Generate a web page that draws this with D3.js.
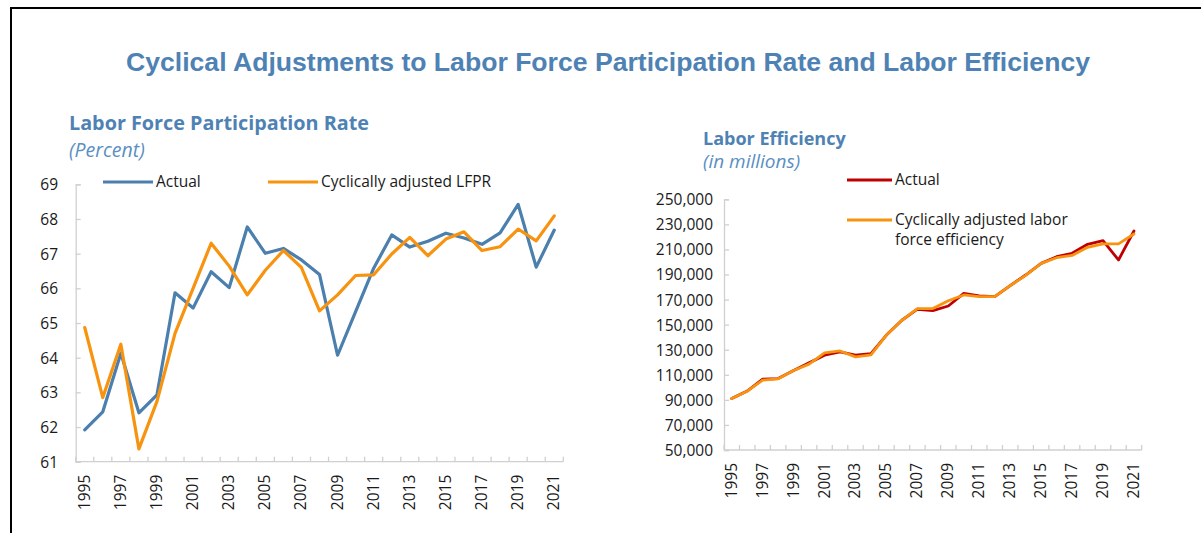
<!DOCTYPE html>
<html>
<head>
<meta charset="utf-8">
<script src="https://cdn.jsdelivr.net/npm/d3@7"></script>
<style>
  html, body { margin: 0; padding: 0; background: #ffffff; }
  svg { display: block; }
  text { font-family: "Open Sans", "Noto Sans", sans-serif; }
</style>
</head>
<body>
<svg id="chart" width="1201" height="533"></svg>
<script>
// ---- Data ----
const years = d3.range(1995, 2022);
const yearLabels = years.filter(y => (y - 1995) % 2 === 0);

// Labor force participation rate (percent)
const lfprActual = [61.92, 62.44, 64.13, 62.41, 62.93, 65.87, 65.43, 66.48, 66.02, 67.77,
                    67.01, 67.15, 66.82, 66.40, 64.07, 65.33, 66.58, 67.54, 67.19, 67.36,
                    67.59, 67.45, 67.27, 67.60, 68.42, 66.61, 67.68];
const lfprAdjusted = [64.87, 62.85, 64.39, 61.37, 62.74, 64.70, 66.00, 67.30, 66.64, 65.81,
                      66.52, 67.09, 66.60, 65.35, 65.81, 66.37, 66.39, 66.99, 67.47, 66.94,
                      67.42, 67.63, 67.09, 67.20, 67.71, 67.37, 68.09];
const lfprTicks = [61, 62, 63, 64, 65, 66, 67, 68, 69];

// Labor efficiency (in millions)
const effActual = [91000, 97000, 106500, 107000, 113500, 119500, 125600, 128200, 125700, 126900,
                   141700, 153500, 162300, 161200, 164900, 175000, 172900, 172300, 181100, 189600,
                   198900, 204200, 206900, 214100, 217000, 201600, 224700];
const effAdjusted = [91000, 96900, 105800, 106800, 113400, 118500, 127400, 129000, 124300, 125900,
                     141700, 153500, 162800, 162800, 169100, 173700, 172400, 172300, 181100, 189300,
                     198900, 203400, 205200, 211700, 214400, 214400, 222300];
const effTicks = [50000, 70000, 90000, 110000, 130000, 150000, 170000, 190000, 210000, 230000, 250000];

// ---- Styles ----
const titleBlue = "#4e82b4";
const subBlue = "#5a8fc2";
const axisGray = "#d0d0d0";
const textColor = "#1a1a1a";

const svg = d3.select("#chart");

// outer frame (top and left edges visible)
svg.append("rect")
  .attr("x", 11).attr("y", 8)
  .attr("width", 1210).attr("height", 560)
  .attr("fill", "none").attr("stroke", "#000").attr("stroke-width", 2);

svg.append("text")
  .attr("x", 608).attr("y", 71)
  .attr("text-anchor", "middle")
  .style("font-family", "'Liberation Sans', Arial, sans-serif")
  .style("font-weight", "bold")
  .style("font-size", "26.6px")
  .attr("fill", titleBlue)
  .text("Cyclical Adjustments to Labor Force Participation Rate and Labor Efficiency");

// Draws one line panel: category x axis with rotated year labels, linear y axis.
function panel(opts) {
  const g = svg.append("g");
  const x = d3.scaleBand().domain(years).range([opts.x0, opts.x1]).paddingInner(0).paddingOuter(0);
  const y = d3.scaleLinear().domain(opts.domain).range([opts.y0, opts.y1]);
  const cx = d => x(d) + x.bandwidth() / 2;

  // titles
  g.append("text").attr("x", opts.titleX).attr("y", opts.titleY)
    .style("font-weight", "bold").style("font-size", opts.titleSize + "px")
    .attr("fill", titleBlue).text(opts.title);
  g.append("text").attr("x", opts.titleX).attr("y", opts.titleY + opts.subGap)
    .style("font-style", "italic").style("font-size", opts.subSize + "px")
    .attr("fill", subBlue).text(opts.subtitle);

  // y axis
  const yAxis = d3.axisLeft(y).tickValues(opts.ticks).tickSize(-5).tickPadding(0)
    .tickFormat(opts.fmt);
  const ya = g.append("g").attr("transform", `translate(${opts.x0},0)`).call(yAxis);
  ya.select(".domain").attr("stroke", axisGray).attr("stroke-width", 1.3);
  ya.selectAll(".tick line").attr("stroke", axisGray).attr("stroke-width", 1.3);
  ya.selectAll(".tick text")
    .attr("x", opts.yLabelX - opts.x0).attr("dy", "0.35em")
    .style("font-size", "15.5px").style("font-family", "'Open Sans', sans-serif")
    .attr("fill", textColor);

  // x axis: boundary ticks between categories, labels every other year
  const xa = g.append("g");
  xa.append("line")
    .attr("x1", opts.x0).attr("x2", opts.x1)
    .attr("y1", opts.y0).attr("y2", opts.y0)
    .attr("stroke", axisGray).attr("stroke-width", 1.3);
  const bounds = years.map(d => x(d)).concat([opts.x1]);
  xa.selectAll("line.tk").data(bounds).join("line").attr("class", "tk")
    .attr("x1", d => d).attr("x2", d => d)
    .attr("y1", opts.y0).attr("y2", opts.y0 - 5)
    .attr("stroke", axisGray).attr("stroke-width", 1.3);
  xa.selectAll("text").data(yearLabels).join("text")
    .attr("transform", d => `translate(${cx(d) + 5},${opts.y0 + 13}) rotate(-90)`)
    .attr("text-anchor", "end")
    .style("font-size", "15.5px")
    .attr("fill", textColor)
    .text(d => d);

  // series
  const line = d3.line().x((d, i) => cx(years[i])).y(d => y(d));
  opts.series.forEach(s => {
    g.append("path").datum(s.values)
      .attr("fill", "none").attr("stroke", s.color)
      .attr("stroke-width", opts.lineWidth)
      .attr("stroke-linejoin", "round").attr("stroke-linecap", "round")
      .attr("d", line);
  });

  // legend
  opts.legend.forEach(l => {
    g.append("line")
      .attr("x1", l.x).attr("x2", l.x + l.len)
      .attr("y1", l.y).attr("y2", l.y)
      .attr("stroke", l.color).attr("stroke-width", 3);
    l.lines.forEach((t, i) => {
      g.append("text").attr("x", l.x + l.len + 3).attr("y", l.y + 5 + i * 20)
        .style("font-size", "15.5px").attr("fill", textColor).text(t);
    });
  });
}

panel({
  x0: 75.7, x1: 563.3, y0: 461.7, y1: 184.3,
  domain: [61, 69], ticks: lfprTicks, fmt: d3.format("d"), yLabelX: 58,
  title: "Labor Force Participation Rate", subtitle: "(Percent)",
  titleX: 69, titleY: 130, subGap: 27, titleSize: 19.8, subSize: 19.5,
  lineWidth: 3.2,
  series: [
    { values: lfprActual, color: "#4a7fae" },
    { values: lfprAdjusted, color: "#f7930f" }
  ],
  legend: [
    { x: 103, y: 182, len: 50, color: "#4a7fae", lines: ["Actual"] },
    { x: 268, y: 182, len: 50, color: "#f7930f", lines: ["Cyclically adjusted LFPR"] }
  ]
});

panel({
  x0: 724, x1: 1141.7, y0: 450, y1: 199.3,
  domain: [50000, 250000], ticks: effTicks, fmt: d3.format(","), yLabelX: 713,
  title: "Labor Efficiency", subtitle: "(in millions)",
  titleX: 703, titleY: 145, subGap: 23, titleSize: 18, subSize: 19,
  lineWidth: 2.8,
  series: [
    { values: effActual, color: "#c00000" },
    { values: effAdjusted, color: "#f7930f" }
  ],
  legend: [
    { x: 847, y: 180, len: 45, color: "#c00000", lines: ["Actual"] },
    { x: 847, y: 220, len: 45, color: "#f7930f", lines: ["Cyclically adjusted labor", "force efficiency"] }
  ]
});
</script>
</body>
</html>
